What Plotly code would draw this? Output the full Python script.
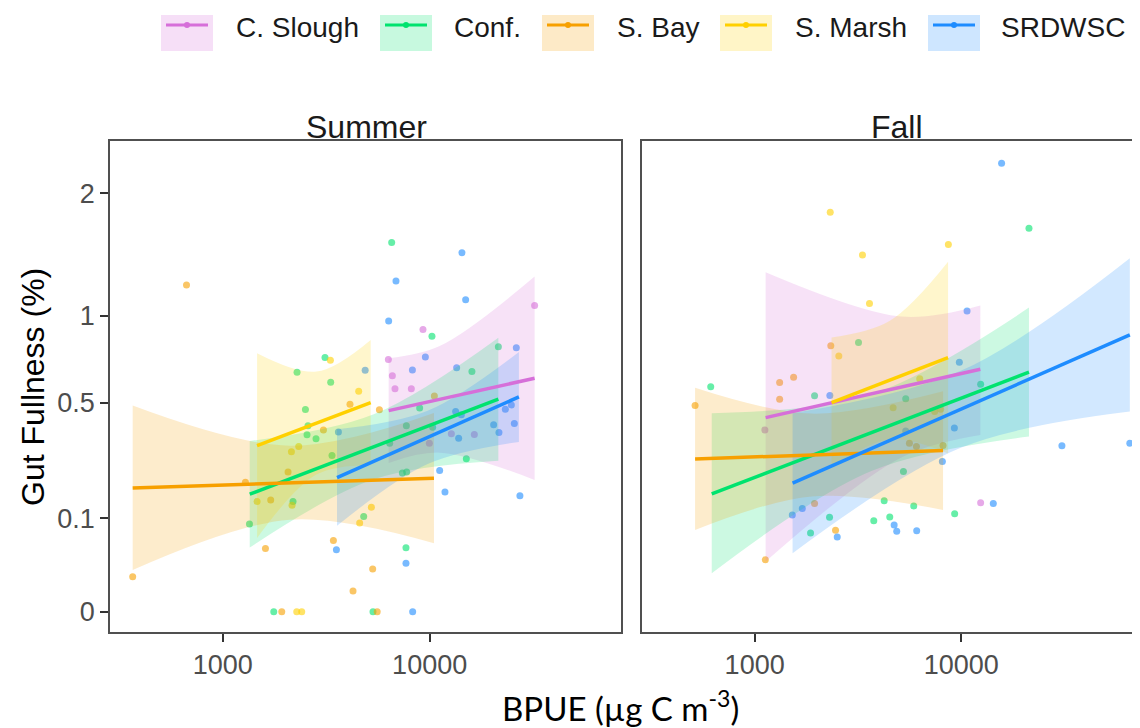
import numpy as np
import plotly.graph_objects as go

# The page places the figure 8px from the top-left corner, so the figure is
# sized to the window minus that offset and reference pixels are shifted.
OFF = 8
W, H = 1140 - OFF, 728 - OFF

GROUPS = ["C. Slough", "Conf.", "S. Bay", "S. Marsh", "SRDWSC"]
COLORS = ["#D66FD9", "#00E36E", "#F7A000", "#FFD000", "#1E8CFF"]
SEASONS = ["Summer", "Fall"]
Y_TICKS = [0, 0.1, 0.5, 1, 2]
Y_TICK_LABELS = ["0", "0.1", "0.5", "1", "2"]
X_TICKS = [1000, 10000]
X_TICK_LABELS = ["1000", "10000"]

# ---------------- Summer points (BPUE, gut fullness %) ----------------
sum_cslough_x = [32155, 9282, 6316, 6603, 6799, 8155, 12730, 16438, 9968]
sum_cslough_y = [1.071, 0.910, 0.727, 0.636, 0.568, 0.568, 0.362, 0.359, 0.325]
sum_conf_x = [3120, 2286, 3324, 2509, 2582, 2554, 2823, 3373, 2186, 1346, 4799, 6553, 10259,
              21477, 16007, 8948, 7717, 10339, 6409, 15040, 7381, 7743, 7683, 1764, 5322]
sum_conf_y = [0.738, 0.656, 0.602, 0.467, 0.396, 0.358, 0.342, 0.279, 0.139, 0.088, 0.104, 1.557, 0.868,
              0.803, 0.659, 0.474, 0.396, 0.389, 0.325, 0.268, 0.220, 0.223, 0.047, 0, 0]
sum_sbay_x = [668, 4120, 3066, 2068, 1287, 1705, 1608, 3425, 367, 4262, 5715, 10537, 5304, 1928, 5577]
sum_sbay_y = [1.22, 0.492, 0.378, 0.223, 0.192, 0.143, 0.046, 0.058, 0.014, 0.005, 0.466, 0.532, 0.021, 0, 0]
sum_smarsh_x = [3313, 4539, 2329, 2147, 1465, 2162, 4589, 5228, 2278, 2408]
sum_smarsh_y = [0.723, 0.556, 0.312, 0.293, 0.139, 0.130, 0.090, 0.125, 0, 0]
sum_srdwsc_x = [4879, 3622, 3542, 14322, 6874, 14925, 6337, 26230, 9533, 8252, 13502, 13353, 14227,
                23215, 24813, 20382, 25657, 13806, 21619, 11177, 11857, 27302, 7683, 8277]
sum_srdwsc_y = [0.667, 0.369, 0.044, 1.473, 1.250, 1.113, 0.966, 0.797, 0.742, 0.668, 0.681, 0.458, 0.444,
                0.469, 0.489, 0.400, 0.405, 0.344, 0.367, 0.228, 0.164, 0.154, 0.027, 0]

# ---------------- Fall points ----------------
fall_cslough_x = [1121, 12397]
fall_cslough_y = [0.378, 0.136]
fall_conf_x = [613, 1949, 3180, 21238, 12397, 5381, 5245, 2303, 1864, 4233, 3770, 4504, 5884, 9282]
fall_conf_y = [0.579, 0.533, 0.828, 1.680, 0.592, 0.519, 0.225, 0.102, 0.071, 0.141, 0.095, 0.103, 0.128, 0.110]
fall_sbay_x = [515, 1321, 1543, 1321, 2336, 1949, 2462, 1126, 8155, 5608, 6062]
fall_sbay_y = [0.486, 0.600, 0.629, 0.516, 0.809, 0.134, 0.076, 0.031, 0.316, 0.325, 0.312]
fall_smarsh_x = [2321, 3324, 3594, 2554, 8654, 6289, 7430, 7943, 4677]
fall_smarsh_y = [1.823, 1.455, 1.085, 0.748, 1.540, 0.621, 0.458, 0.469, 0.476]
fall_srdwsc_x = [2311, 15656, 10654, 9779, 9252, 5381, 30658, 65313, 8093, 1521, 1700, 2509, 4730, 4868, 6081, 14276]
fall_srdwsc_y = [0.534, 2.298, 1.034, 0.712, 0.386, 0.374, 0.315, 0.325, 0.258, 0.107, 0.122, 0.064, 0.086, 0.074, 0.075, 0.134]

# ---------------- Fitted lines (ends) and confidence bands (left, mid, right) ----------------
sum_cslough_fit_x = [6337, 32155]; sum_cslough_fit_y = [0.4624, 0.6233]
sum_cslough_band_x = [6337, 11177, 32155]; sum_cslough_lo = [0.253, 0.2894, 0.1988]; sum_cslough_hi = [0.7344, 0.8064, 1.2832]
sum_conf_fit_x = [1350, 21477]; sum_conf_fit_y = [0.1581, 0.5164]
sum_conf_band_x = [1350, 5364, 21477]; sum_conf_lo = [0.0473, 0.2005, 0.2607]; sum_conf_hi = [0.3336, 0.446, 0.8586]
sum_sbay_fit_x = [367, 10490]; sum_sbay_fit_y = [0.1755, 0.2040]
sum_sbay_band_x = [367, 2107, 10490]; sum_sbay_lo = [0.0199, 0.0970, 0.0537]; sum_sbay_hi = [0.4857, 0.3153, 0.4512]
sum_smarsh_fit_x = [1465, 5188]; sum_smarsh_fit_y = [0.3156, 0.5]
sum_smarsh_band_x = [1465, 2836, 5188]; sum_smarsh_lo = [0.0623, 0.2151, 0.2453]; sum_smarsh_hi = [0.7639, 0.659, 0.8444]
sum_srdwsc_fit_x = [3566, 27000]; sum_srdwsc_fit_y = [0.2058, 0.5277]
sum_srdwsc_band_x = [3566, 9779, 27000]; sum_srdwsc_lo = [0.0845, 0.2495, 0.3299]; sum_srdwsc_hi = [0.3803, 0.4617, 0.7716]

fall_cslough_fit_x = [1130, 12356]; fall_cslough_fit_y = [0.4309, 0.6724]
fall_cslough_band_x = [1130, 5129, 12356]; fall_cslough_lo = [0.0289, 0.2725, 0.3576]; fall_cslough_hi = [1.317, 0.9952, 1.0708]
fall_conf_fit_x = [620, 21238]; fall_conf_fit_y = [0.1589, 0.6558]
fall_conf_band_x = [620, 3674, 21238]; fall_conf_lo = [0.0171, 0.2263, 0.3507]; fall_conf_hi = [0.4506, 0.5413, 1.0568]
fall_sbay_fit_x = [515, 8155]; fall_sbay_fit_y = [0.2672, 0.2969]
fall_sbay_band_x = [515, 1885, 8155]; fall_sbay_lo = [0.0767, 0.1521, 0.1187]; fall_sbay_hi = [0.5729, 0.4489, 0.5553]
fall_smarsh_fit_x = [2355, 8624]; fall_smarsh_fit_y = [0.5, 0.7381]
fall_smarsh_band_x = [2355, 4489, 8624]; fall_smarsh_lo = [0.2372, 0.3399, 0.2862]; fall_smarsh_hi = [0.8593, 0.9663, 1.4004]
fall_srdwsc_fit_x = [1526, 65313]; fall_srdwsc_fit_y = [0.1891, 0.8757]
fall_srdwsc_band_x = [1526, 10000, 65313]; fall_srdwsc_lo = [0.0393, 0.3082, 0.4579]; fall_srdwsc_hi = [0.4506, 0.6646, 1.4278]

PANELS = {
    "Summer": {
        "points": [(sum_cslough_x, sum_cslough_y), (sum_conf_x, sum_conf_y), (sum_sbay_x, sum_sbay_y),
                   (sum_smarsh_x, sum_smarsh_y), (sum_srdwsc_x, sum_srdwsc_y)],
        "fits": [(sum_cslough_fit_x, sum_cslough_fit_y, sum_cslough_band_x, sum_cslough_lo, sum_cslough_hi),
                 (sum_conf_fit_x, sum_conf_fit_y, sum_conf_band_x, sum_conf_lo, sum_conf_hi),
                 (sum_sbay_fit_x, sum_sbay_fit_y, sum_sbay_band_x, sum_sbay_lo, sum_sbay_hi),
                 (sum_smarsh_fit_x, sum_smarsh_fit_y, sum_smarsh_band_x, sum_smarsh_lo, sum_smarsh_hi),
                 (sum_srdwsc_fit_x, sum_srdwsc_fit_y, sum_srdwsc_band_x, sum_srdwsc_lo, sum_srdwsc_hi)],
    },
    "Fall": {
        "points": [(fall_cslough_x, fall_cslough_y), (fall_conf_x, fall_conf_y), (fall_sbay_x, fall_sbay_y),
                   (fall_smarsh_x, fall_smarsh_y), (fall_srdwsc_x, fall_srdwsc_y)],
        "fits": [(fall_cslough_fit_x, fall_cslough_fit_y, fall_cslough_band_x, fall_cslough_lo, fall_cslough_hi),
                 (fall_conf_fit_x, fall_conf_fit_y, fall_conf_band_x, fall_conf_lo, fall_conf_hi),
                 (fall_sbay_fit_x, fall_sbay_fit_y, fall_sbay_band_x, fall_sbay_lo, fall_sbay_hi),
                 (fall_smarsh_fit_x, fall_smarsh_fit_y, fall_smarsh_band_x, fall_smarsh_lo, fall_smarsh_hi),
                 (fall_srdwsc_fit_x, fall_srdwsc_fit_y, fall_srdwsc_band_x, fall_srdwsc_lo, fall_srdwsc_hi)],
    },
}


def rgba(h, a):
    h = h.lstrip("#")
    return f"rgba({int(h[0:2],16)},{int(h[2:4],16)},{int(h[4:6],16)},{a})"


def tr(v):  # square-root transform of the y scale
    return np.sqrt(np.asarray(v, dtype=float))


fig = go.Figure()
AX = {"Summer": ("x", "y"), "Fall": ("x2", "y2")}

# points
for season in SEASONS:
    xa, ya = AX[season]
    for (xs, ys), col in zip(PANELS[season]["points"], COLORS):
        fig.add_trace(go.Scatter(x=xs, y=tr(ys), mode="markers", xaxis=xa, yaxis=ya,
                                 marker=dict(size=7, color=col, opacity=0.6, line=dict(width=0)),
                                 showlegend=False, hoverinfo="skip"))
# confidence ribbons
for season in SEASONS:
    xa, ya = AX[season]
    for (fx, fy, bx, lo, hi), col in zip(PANELS[season]["fits"], COLORS):
        fig.add_trace(go.Scatter(x=bx, y=tr(lo), mode="lines", xaxis=xa, yaxis=ya,
                                 line=dict(width=0, shape="spline", color=col),
                                 showlegend=False, hoverinfo="skip"))
        fig.add_trace(go.Scatter(x=bx, y=tr(hi), mode="lines", xaxis=xa, yaxis=ya, fill="tonexty",
                                 fillcolor=rgba(col, 0.2),
                                 line=dict(width=0, shape="spline", color=col),
                                 showlegend=False, hoverinfo="skip"))
# fitted lines
for season in SEASONS:
    xa, ya = AX[season]
    for (fx, fy, bx, lo, hi), col in zip(PANELS[season]["fits"], COLORS):
        fig.add_trace(go.Scatter(x=fx, y=tr(fy), mode="lines", xaxis=xa, yaxis=ya,
                                 line=dict(width=3.5, color=col),
                                 showlegend=False, hoverinfo="skip"))

FONT = "Liberation Sans, Arial, sans-serif"
LINEC = "#505050"


def px(x):
    return (x - OFF) / W


def py(y):
    return 1 - (y - OFF) / H


ydom = [py(632), py(141)]
xrng_lo = 2.455
common_x = dict(type="log", showline=True, mirror=True, linecolor=LINEC, linewidth=1.6,
                ticks="outside", ticklen=8, tickwidth=1.6, tickcolor="#333333",
                tickvals=X_TICKS, ticktext=X_TICK_LABELS,
                tickfont=dict(family=FONT, size=27, color="#4D4D4D"),
                showgrid=False, zeroline=False)
common_y = dict(range=[-0.068, 1.591], showgrid=False, zeroline=False,
                tickvals=list(tr(Y_TICKS)), ticktext=Y_TICK_LABELS)

fig.update_layout(
    width=W, height=H, margin=dict(l=0, r=0, t=0, b=0),
    paper_bgcolor="white", plot_bgcolor="white", showlegend=False,
    xaxis=dict(domain=[px(110), px(621)], range=[xrng_lo, xrng_lo + 511 / 206.9], anchor="y", **common_x),
    xaxis2=dict(domain=[px(642), 1.0], range=[xrng_lo, xrng_lo + 498 / 206.7], anchor="y2", **common_x),
    yaxis=dict(domain=ydom, anchor="x", showline=True, mirror=True, linecolor=LINEC, linewidth=1.6,
               ticks="outside", ticklen=8, tickwidth=1.6, tickcolor="#333333",
               tickfont=dict(family=FONT, size=27, color="#4D4D4D"), **common_y),
    yaxis2=dict(domain=ydom, anchor="x2", showline=True, mirror=False, linecolor=LINEC, linewidth=1.6,
                ticks="", showticklabels=False, **common_y),
)

ann = []
# facet strip titles
ann.append(dict(x=px(366), y=py(127), text="Summer", showarrow=False, xref="paper", yref="paper",
                xanchor="center", yanchor="middle", font=dict(family=FONT, size=32, color="#1A1A1A")))
ann.append(dict(x=px(897), y=py(127), text="Fall", showarrow=False, xref="paper", yref="paper",
                xanchor="center", yanchor="middle", font=dict(family=FONT, size=32, color="#1A1A1A")))
# axis titles
ann.append(dict(x=px(33), y=py(387), text="Gut Fullness (%)", showarrow=False, xref="paper", yref="paper",
                textangle=-90, xanchor="center", yanchor="middle", font=dict(family=FONT, size=32, color="black")))
ann.append(dict(x=px(620), y=py(706), text="BPUE (µg C m<sup>-3</sup>)", showarrow=False, xref="paper",
                yref="paper", xanchor="center", yanchor="middle",
                font=dict(family="Lato, sans-serif", size=33, color="black")))

# custom legend (key: ribbon fill + line + point)
KEY_LEFT = [161, 380, 542, 720, 928]
TEXT_LEFT = [234, 452, 615, 793, 999]
shapes = []
for i, (g, col) in enumerate(zip(GROUPS, COLORS)):
    kl = KEY_LEFT[i]
    shapes.append(dict(type="rect", xref="paper", yref="paper", x0=px(kl), x1=px(kl + 52), y0=py(51), y1=py(15),
                       fillcolor=rgba(col, 0.22), line=dict(width=0), layer="above"))
    shapes.append(dict(type="line", xref="paper", yref="paper", x0=px(kl + 5), x1=px(kl + 47), y0=py(25), y1=py(25),
                       line=dict(color=col, width=3), layer="above"))
    shapes.append(dict(type="circle", xref="paper", yref="paper", x0=px(kl + 23), x1=px(kl + 29), y0=py(28), y1=py(22),
                       fillcolor=col, line=dict(width=0), layer="above"))
    ann.append(dict(x=px(TEXT_LEFT[i]), y=py(27), text=g, showarrow=False, xref="paper", yref="paper",
                    xanchor="left", yanchor="middle", font=dict(family=FONT, size=28, color="#1A1A1A")))

fig.update_layout(annotations=ann, shapes=shapes)
fig.write_html("out.html")
